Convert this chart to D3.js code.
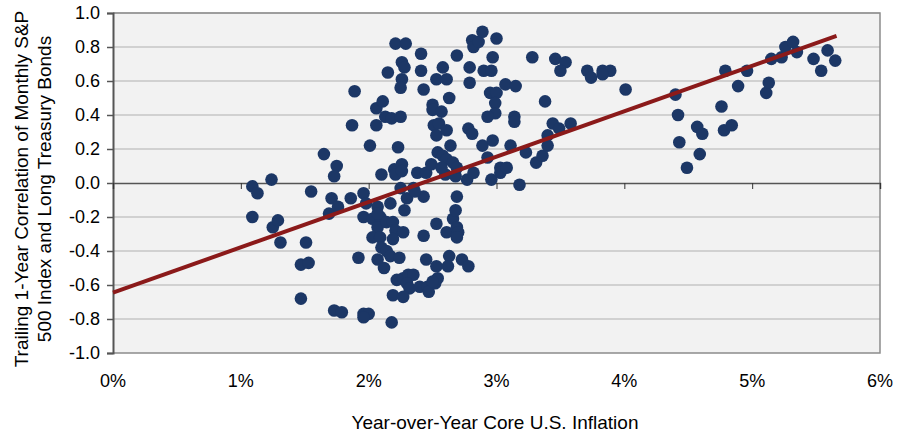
<!DOCTYPE html>
<html>
<head>
<meta charset="utf-8">
<script src="https://cdn.jsdelivr.net/npm/d3@7"></script>
<style>
  html, body { margin: 0; padding: 0; background: #fff; }
  svg { display: block; font-family: "Liberation Sans", Arial, sans-serif; }
</style>
</head>
<body>
<div id="chart"></div>
<script>
// Scatter - stock/bond correlation vs core inflation, with linear trend
const inflation = [
  1.09, 1.13, 1.24, 1.09, 1.25, 1.29, 1.31, 1.47, 1.53, 1.51, 1.47, 1.55, 1.65, 1.69, 1.71,
  1.75, 1.73, 1.76, 1.73, 1.79, 1.86, 1.89, 1.87, 1.92, 1.96, 1.98, 1.96, 1.96, 2.00, 1.96, 2.01,
  2.06, 2.06, 2.11, 2.13, 2.18, 2.10, 2.15, 2.21, 2.23, 2.20, 2.21, 2.03, 2.07, 2.09, 2.07,
  2.14, 2.19, 2.21, 2.03, 2.09, 2.19, 2.10, 2.14, 2.17, 2.07, 2.12, 2.24, 2.17, 2.18, 2.22,
  2.19, 2.07, 2.29, 2.26, 2.28, 2.26, 2.25, 2.25, 2.26, 2.26, 2.25, 2.30, 2.35, 2.28, 2.27,
  2.43, 2.38, 2.45, 2.41, 2.41, 2.43, 2.27, 2.31, 2.35, 2.30, 2.32, 2.27, 2.40, 2.46, 2.47,
  2.43, 2.45, 2.36, 2.49, 2.50, 2.50, 2.57, 2.51, 2.55, 2.53, 2.61, 2.63, 2.58, 2.53, 2.61,
  2.54, 2.64, 2.58, 2.61, 2.66, 2.60, 2.68, 2.69, 2.69, 2.53, 2.61, 2.66, 2.68, 2.69, 2.70,
  2.69, 2.63, 2.53, 2.62, 2.52, 2.54, 2.50, 2.57, 2.69, 2.73, 2.78, 2.79, 2.79, 2.81, 2.82,
  2.86, 2.89, 3.00, 2.97, 2.90, 2.96, 2.95, 3.00, 2.99, 2.99, 2.93, 3.07, 3.15, 2.78, 2.81,
  2.89, 2.97, 2.93, 2.77, 2.82, 2.96, 3.03, 3.03, 3.08, 3.11, 3.18, 3.23, 3.31, 3.36, 3.40,
  3.40, 3.44, 3.49, 3.58, 3.38, 3.14, 3.14, 3.28, 3.46, 3.54, 3.50, 3.71, 3.74, 3.83, 3.89,
  3.83, 4.01, 4.40, 4.42, 4.43, 4.49, 4.57, 4.61, 4.59, 4.76, 4.79, 4.78, 4.84, 4.89, 4.96,
  5.11, 5.13, 5.15, 5.23, 5.26, 5.32, 5.35, 5.48, 5.54, 5.59, 5.65
];
const correlation = [
  -0.02, -0.06, 0.02, -0.20, -0.26, -0.22, -0.35, -0.48, -0.47, -0.35, -0.68, -0.05, 0.17, -0.18, -0.09,
  0.10, 0.04, -0.14, -0.75, -0.76, -0.09, 0.54, 0.34, -0.44, -0.06, -0.12, -0.20, -0.77, -0.77, -0.79, 0.22,
  0.44, 0.34, 0.48, 0.39, 0.38, 0.05, 0.65, 0.82, 0.21, 0.08, 0.05, -0.21, -0.14, -0.20, -0.26,
  -0.23, -0.23, -0.28, -0.32, -0.32, -0.33, -0.38, -0.40, -0.43, -0.45, -0.50, -0.44, -0.12, -0.82, -0.57,
  -0.66, -0.18, 0.82, 0.71, 0.68, 0.61, 0.56, 0.39, 0.11, 0.07, -0.03, -0.09, -0.03, -0.16, -0.29,
  -0.08, 0.06, 0.06, 0.76, 0.66, 0.55, -0.56, -0.54, -0.54, -0.59, -0.62, -0.67, -0.61, -0.61, -0.64,
  -0.31, -0.45, -0.05, 0.11, 0.46, 0.43, 0.42, 0.34, 0.35, 0.28, 0.31, 0.50, 0.68, 0.61, 0.61,
  0.18, 0.22, 0.16, 0.14, 0.12, 0.05, 0.04, -0.08, 0.75, -0.24, -0.29, -0.21, -0.16, -0.26, -0.29,
  -0.32, -0.43, -0.49, -0.49, -0.59, -0.56, -0.58, 0.09, 0.09, -0.45, -0.49, 0.68, 0.59, 0.84, 0.80,
  0.83, 0.89, 0.85, 0.74, 0.66, 0.66, 0.53, 0.53, 0.47, 0.41, 0.39, 0.58, 0.57, 0.32, 0.29,
  0.22, 0.25, 0.15, 0.02, 0.06, 0.02, 0.09, 0.06, 0.09, 0.22, -0.01, 0.18, 0.12, 0.16, 0.22,
  0.28, 0.35, 0.32, 0.35, 0.48, 0.39, 0.36, 0.74, 0.73, 0.71, 0.66, 0.66, 0.62, 0.66, 0.66,
  0.64, 0.55, 0.52, 0.40, 0.24, 0.09, 0.33, 0.29, 0.17, 0.45, 0.66, 0.31, 0.34, 0.57, 0.66,
  0.53, 0.59, 0.73, 0.74, 0.80, 0.83, 0.77, 0.73, 0.66, 0.78, 0.72
];
// linear trend line (endpoints)
const trendX = [0, 5.66];
const trendY = [-0.645, 0.865];

const xTicks = [0, 1, 2, 3, 4, 5, 6];
const yTicks = [-1.0, -0.8, -0.6, -0.4, -0.2, 0.0, 0.2, 0.4, 0.6, 0.8, 1.0];
const yTitle = ["Trailing 1-Year Correlation of Monthly S&P", "500 Index and Long Treasury Bonds"];
const xTitle = "Year-over-Year Core U.S. Inflation";

const W = 897, H = 438;
const margin = { top: 13, right: 17, bottom: 85, left: 113 };
const width = W - margin.left - margin.right;
const height = H - margin.top - margin.bottom;

const svg = d3.select("#chart").append("svg")
    .attr("width", W)
    .attr("height", H);

const g = svg.append("g")
    .attr("transform", `translate(${margin.left},${margin.top})`);

const x = d3.scaleLinear().domain([0, 6]).range([0, width]);
const y = d3.scaleLinear().domain([-1, 1]).range([height, 0]);

// plot background
g.append("rect")
    .attr("width", width)
    .attr("height", height)
    .attr("fill", "#f2f2f2");

// gridlines
g.selectAll(".grid")
    .data(yTicks.filter(t => t !== 0 && t !== -1))
    .enter().append("line")
    .attr("x1", 0).attr("x2", width)
    .attr("y1", d => y(d)).attr("y2", d => y(d))
    .attr("stroke", "#c6c6c6")
    .attr("stroke-width", 1.5);

// frame (top, right, bottom)
g.append("path")
    .attr("d", `M0,${y(1)}H${width}V${y(-1)}H0`)
    .attr("fill", "none")
    .attr("stroke", "#8c8c8c")
    .attr("stroke-width", 1.5);

// y axis
const yAxis = g.append("g")
    .call(d3.axisLeft(y).tickValues(yTicks).tickFormat(d3.format(".1f")).tickSize(6).tickPadding(7));
yAxis.select(".domain").attr("stroke", "#555").attr("stroke-width", 2);
yAxis.selectAll(".tick line").attr("stroke", "#555").attr("stroke-width", 1.5);
yAxis.selectAll("text")
    .attr("font-size", 18)
    .attr("fill", "#000")
    .attr("font-family", "Liberation Sans, Arial, sans-serif")
    .text(d => d3.format(".1f")(d).replace("−", "-"));

// zero line with ticks
const xAxis = g.append("g")
    .attr("transform", `translate(0,${y(0)})`)
    .call(d3.axisBottom(x).tickValues(xTicks).tickSize(6).tickFormat(""));
xAxis.select(".domain").attr("stroke", "#555").attr("stroke-width", 1.5);
xAxis.selectAll(".tick line").attr("stroke", "#333").attr("stroke-width", 1);

// x tick labels at bottom
g.selectAll(".xlab")
    .data(xTicks)
    .enter().append("text")
    .attr("x", d => x(d))
    .attr("y", height + 34)
    .attr("text-anchor", "middle")
    .attr("font-size", 18)
    .attr("fill", "#000")
    .text(d => d + "%");

// points
const pts = inflation.map((v, i) => ({ x: v, y: correlation[i] }));
g.selectAll(".dot")
    .data(pts)
    .enter().append("circle")
    .attr("cx", d => x(d.x))
    .attr("cy", d => y(d.y))
    .attr("r", 6.3)
    .attr("fill", "#1c3766");

// trend line
g.append("line")
    .attr("x1", x(trendX[0])).attr("y1", y(trendY[0]))
    .attr("x2", x(trendX[1])).attr("y2", y(trendY[1]))
    .attr("stroke", "#8b1a1a")
    .attr("stroke-width", 4);

// axis titles
svg.append("text")
    .attr("x", 495)
    .attr("y", 429)
    .attr("text-anchor", "middle")
    .attr("font-size", 19)
    .attr("fill", "#000")
    .text(xTitle);

const yt = svg.append("text")
    .attr("transform", `translate(28,${margin.top + height / 2 + 6}) rotate(-90)`)
    .attr("text-anchor", "middle")
    .attr("font-size", 19)
    .attr("fill", "#000");
yTitle.forEach((t, i) => {
    yt.append("tspan").attr("x", 0).attr("dy", i === 0 ? 0 : 23).text(t);
});
</script>
</body>
</html>
